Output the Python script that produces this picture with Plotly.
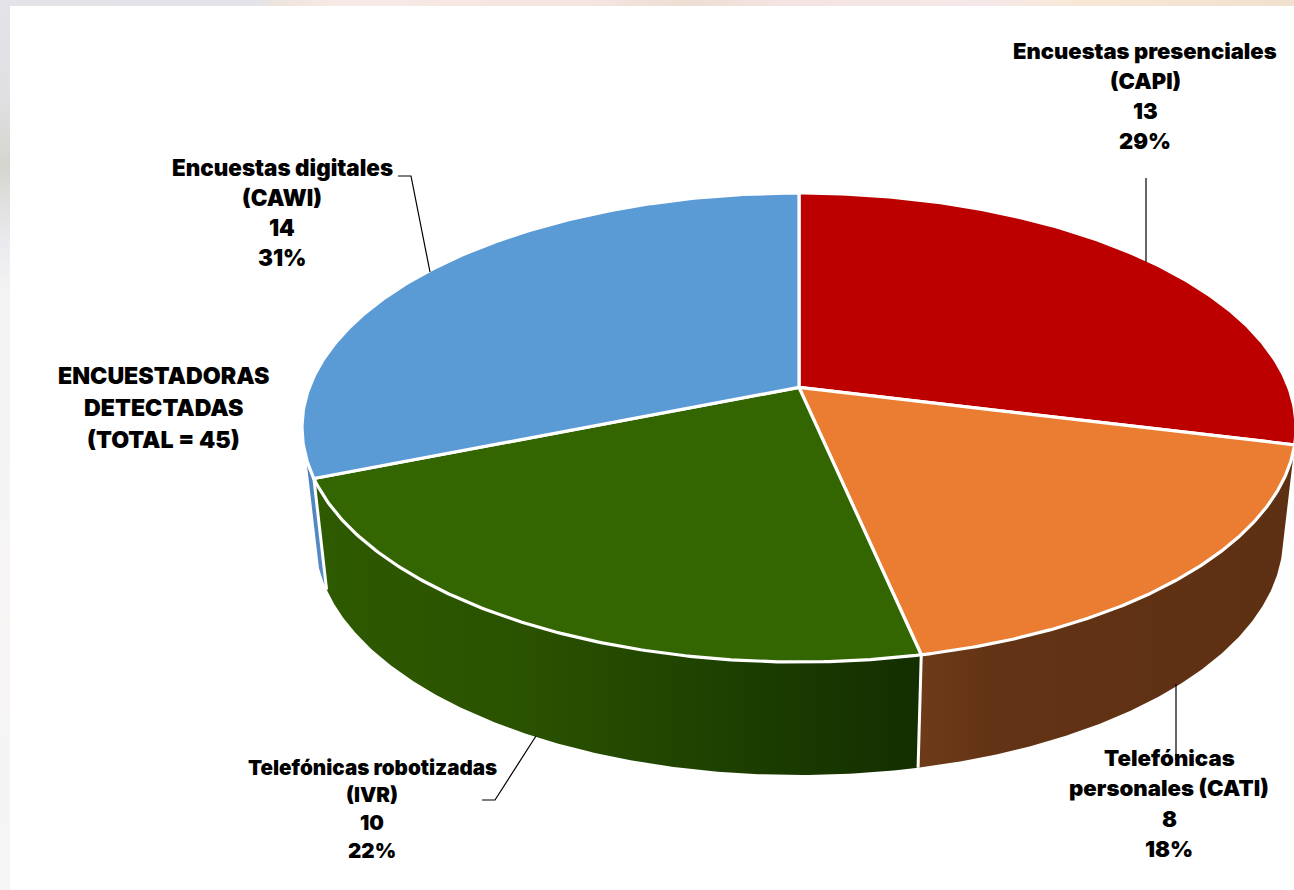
import numpy as np
import plotly.graph_objects as go

categories = ["Encuestas presenciales<br>(CAPI)", "Telefónicas<br>personales (CATI)",
              "Telefónicas robotizadas<br>(IVR)", "Encuestas digitales<br>(CAWI)"]
values = [13, 8, 10, 14]
top_colors = ["#BC0000", "#EB7D32", "#336600", "#5B9BD5"]
center_note = ["ENCUESTADORAS", "DETECTADAS", "(TOTAL = 45)"]

FONT = "Inter"
TILT = 0.171           # perspective shift of the pie centre
CX = 799
TOP = dict(cy=427.5, rx=497, ry=234.5)
BOT = dict(cy=538, rx=484, ry=237)


def project(deg, face):
    t = np.radians(np.asarray(deg, dtype=float))
    u, v = np.sin(t), np.cos(t)
    d = 1 + TILT * v
    return (CX + face["rx"] * u * np.sqrt(1 - TILT ** 2) / d,
            face["cy"] - face["ry"] * (v + TILT) / d)


total = sum(values)
edges = np.concatenate([[0], np.cumsum(values)]) * 360 / total


def arc(a, b, face):
    return project(np.linspace(a, b, 160), face)


def wall(a, b, colors, name):
    x1, y1 = arc(a, b, TOP)
    x2, y2 = arc(b, a, BOT)
    return go.Scatter(x=np.r_[x1, x2, x1[0]], y=np.r_[y1, y2, y1[0]], mode="lines",
                      line=dict(width=0), fill="toself",
                      fillgradient=dict(type="horizontal", colorscale=colors),
                      hoverinfo="skip", showlegend=False, name=name)


def strip(x0, x1, y0, y1, kind, colors):
    return go.Scatter(x=[x0, x1, x1, x0, x0], y=[y0, y0, y1, y1, y0], mode="lines",
                      line=dict(width=0), fill="toself",
                      fillgradient=dict(type=kind, colorscale=colors),
                      hoverinfo="skip", showlegend=False)


fig = go.Figure()

# image border showing behind the chart (gradient runs bottom to top on this reversed axis)
fig.add_trace(strip(0, 10, 0, 890, "vertical",
                    [[0, "#F4F5F4"], [0.3, "#F7F4F4"], [0.67, "#F3F4F4"], [0.73, "#EAEAEE"],
                     [0.815, "#D5D5CF"], [0.89, "#E0E0E3"], [1, "#E3E3E8"]]))
fig.add_trace(strip(0, 1294, 0, 6, "horizontal",
                    [[0, "#E3E3E8"], [0.2, "#E4E3E9"], [0.215, "#EFE4DC"], [0.26, "#F7EAE6"],
                     [0.46, "#F5E4E0"], [0.53, "#EEDDD3"], [0.6, "#F3E4E2"], [0.77, "#F5E8E8"],
                     [0.82, "#F8E8D8"], [1, "#F2E0CE"]]))

# side walls (only the parts that face the viewer)
fig.add_trace(wall(edges[3], edges[3] + 5, [[0, "#4A82BC"], [1, "#5A8FC8"]], "wall digital"))
fig.add_trace(wall(edges[2], edges[3],
                   [[0, "#2E5A00"], [0.35, "#2A5200"], [0.7, "#1C3F00"], [1, "#142E00"]], "wall robot"))
fig.add_trace(wall(edges[1], edges[2],
                   [[0, "#6E3B19"], [0.2, "#623314"], [1, "#5E3013"]], "wall personal"))

# white separators on the wall
for e in (edges[2], edges[3]):
    xa, ya = project([e], TOP)
    xb, yb = project([e], BOT)
    fig.add_trace(go.Scatter(x=[xa[0], xb[0]], y=[ya[0], yb[0]], mode="lines",
                             line=dict(color="white", width=3),
                             hoverinfo="skip", showlegend=False))

# top face of the pie
cy0 = TOP["cy"] - TOP["ry"] * TILT
for i, c in enumerate(top_colors):
    xs, ys = arc(edges[i], edges[i + 1], TOP)
    fig.add_trace(go.Scatter(x=np.r_[CX, xs, CX], y=np.r_[cy0, ys, cy0], mode="lines",
                             fill="toself", fillcolor=c,
                             line=dict(color="white", width=3.2),
                             hoverinfo="skip", showlegend=False, name=categories[i]))

# leader lines
leaders = [([1146, 1146], [178, 262]),
           ([1176, 1176], [684, 760]),
           ([482, 495, 536], [800, 800, 736]),
           ([398, 411, 430], [176, 176, 272])]
for lx, ly in leaders:
    fig.add_trace(go.Scatter(x=lx, y=ly, mode="lines", line=dict(color="#000000", width=1.2),
                             hoverinfo="skip", showlegend=False))


def text_block(lines, x, y, step, size):
    for k, line in enumerate(lines):
        fig.add_annotation(x=x, y=y + k * step, text=line, showarrow=False, xanchor="center",
                           yanchor="middle", align="center",
                           font=dict(family=FONT, size=size, color="#000000", weight=900))


def label(i):
    return categories[i].split("<br>") + [str(values[i]), f"{round(100 * values[i] / total)}%"]


placements = [(1145, 51, 30, 22), (1169, 757, 30.5, 22.2), (372, 767, 27.8, 20.6), (282, 167, 30, 22.4)]
for i, (x, y, step, size) in enumerate(placements):
    text_block(label(i), x, y, step, size)
text_block(center_note, 163, 376, 32, 23.2)

fig.update_layout(
    width=1294, height=890, margin=dict(l=0, r=0, t=0, b=0),
    paper_bgcolor="white", plot_bgcolor="white", showlegend=False,
    xaxis=dict(range=[0, 1294], visible=False, fixedrange=True),
    yaxis=dict(range=[890, 0], visible=False, fixedrange=True),
)
fig.write_html("out.html", config=dict(displayModeBar=False),
               post_script="document.body.style.margin='0';")
